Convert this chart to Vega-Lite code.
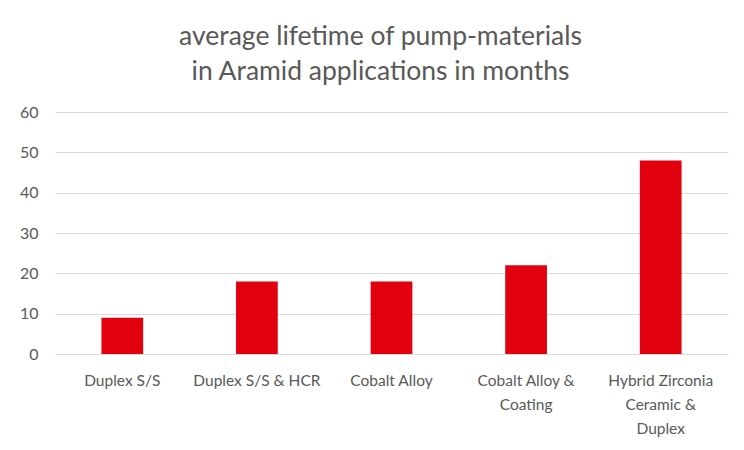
{
  "$schema": "https://vega.github.io/schema/vega-lite/v6.json",
  "autosize": {"type": "none"},
  "padding": {"left": 55, "top": 112, "right": 16, "bottom": 96},
  "width": 673,
  "height": 242,
  "background": "white",
  "title": {
    "text": ["average lifetime of pump-materials", " in Aramid applications in months"],
    "fontSize": 26.5,
    "font": "Lato",
    "fontWeight": "normal",
    "color": "#595959",
    "lineHeight": 35,
    "offset": 19,
    "dx": -11,
    "anchor": "middle"
  },
  "data": {
    "values": [
      {"material": "Duplex S/S", "months": 9},
      {"material": "Duplex S/S & HCR", "months": 18},
      {"material": "Cobalt Alloy", "months": 18},
      {"material": "Cobalt Alloy & Coating", "months": 22},
      {"material": "Hybrid Zirconia Ceramic & Duplex", "months": 48}
    ]
  },
  "mark": {"type": "bar", "color": "#E2000F"},
  "encoding": {
    "x": {
      "field": "material",
      "type": "nominal",
      "sort": null,
      "scale": {"paddingInner": 0.69, "paddingOuter": 0.345},
      "axis": {
        "title": null,
        "labelAngle": 0,
        "domain": false,
        "ticks": false,
        "labelPadding": 19,
        "labelFont": "Lato",
        "labelFontSize": 15.5,
        "labelColor": "#595959",
        "labelLineHeight": 24,
        "labelLimit": 200,
        "labelExpr": "datum.value == 'Cobalt Alloy & Coating' ? ['Cobalt Alloy &', 'Coating'] : datum.value == 'Hybrid Zirconia Ceramic & Duplex' ? ['Hybrid Zirconia', 'Ceramic &', 'Duplex'] : datum.value"
      }
    },
    "y": {
      "field": "months",
      "type": "quantitative",
      "scale": {"domain": [0, 60]},
      "axis": {
        "title": null,
        "values": [0, 10, 20, 30, 40, 50, 60],
        "domain": false,
        "ticks": false,
        "grid": true,
        "gridColor": "#D9D9D9",
        "gridWidth": 1,
        "labelPadding": 17,
        "labelFont": "Lato",
        "labelFontSize": 16,
        "labelColor": "#595959"
      }
    }
  },
  "config": {"view": {"stroke": null}}
}
